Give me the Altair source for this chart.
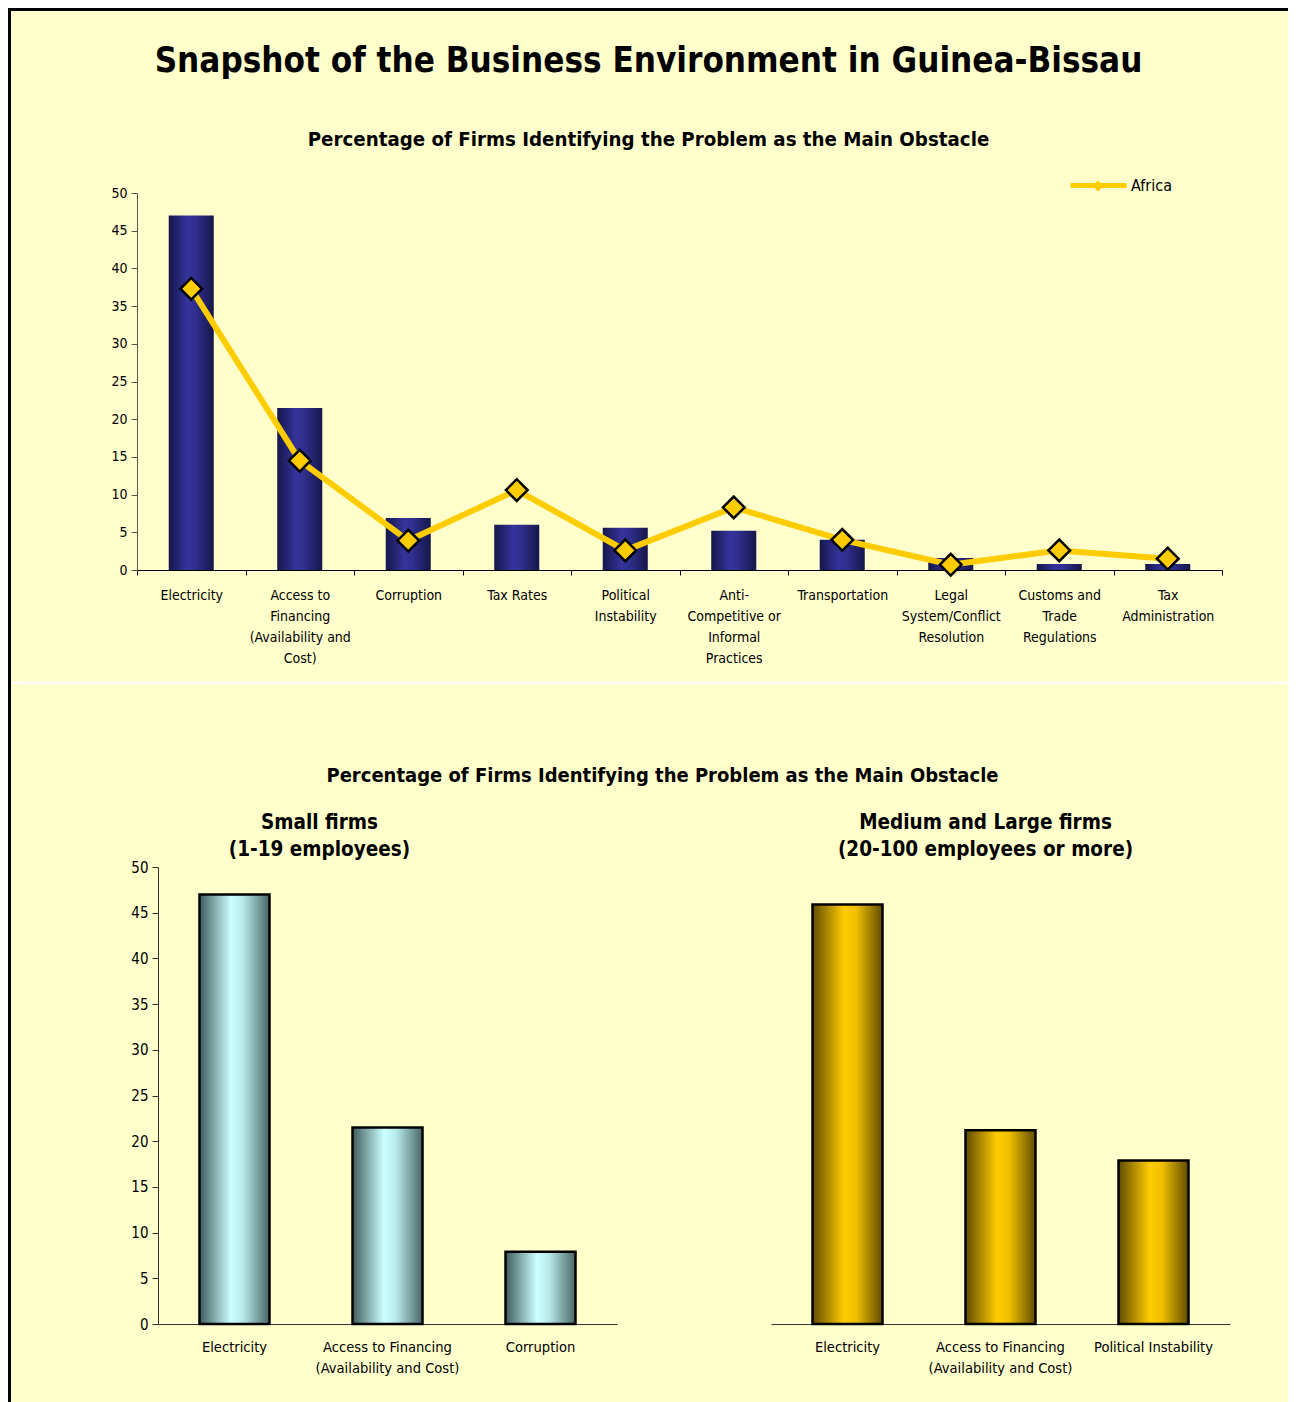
import altair as alt
import pandas as pd

BG = "#FFFFCC"
FONT = "'DejaVu Sans Condensed', 'DejaVu Sans', sans-serif"

# ---------------- data ----------------
top_categories = [
    "Electricity",
    "Access to\nFinancing\n(Availability and\nCost)",
    "Corruption",
    "Tax Rates",
    "Political\nInstability",
    "Anti-\nCompetitive or\nInformal\nPractices",
    "Transportation",
    "Legal\nSystem/Conflict\nResolution",
    "Customs and\nTrade\nRegulations",
    "Tax\nAdministration",
]
guinea_values = [47.0, 21.5, 6.9, 6.0, 5.6, 5.2, 4.0, 1.6, 0.8, 0.8]
africa_values = [37.3, 14.5, 3.9, 10.6, 2.6, 8.3, 4.0, 0.7, 2.6, 1.5]

small_categories = ["Electricity", "Access to Financing\n(Availability and Cost)", "Corruption"]
small_values = [47.0, 21.5, 7.9]
large_categories = ["Electricity", "Access to Financing\n(Availability and Cost)", "Political Instability"]
large_values = [45.9, 21.2, 17.9]

y_ticks = [0, 5, 10, 15, 20, 25, 30, 35, 40, 45, 50]

main_title = "Snapshot of the Business Environment in Guinea-Bissau"
panel_title = "Percentage of Firms Identifying the Problem as the Main Obstacle"
small_title = ["Small firms", "(1-19 employees)"]
large_title = ["Medium and Large firms", "(20-100 employees or more)"]
legend_label = "Africa"

# ---------------- styles ----------------
def hgrad(stops):
    return alt.Gradient(
        gradient="linear", x1=0, x2=1, y1=0, y2=0,
        stops=[alt.GradientStop(color=c, offset=o) for o, c in stops],
    )

navy = hgrad([(0, "#16164a"), (0.42, "#34349c"), (0.6, "#2f2f8e"), (1, "#16164a")])
cyan = hgrad([(0, "#3f5c5c"), (0.45, "#ccffff"), (0.62, "#b8eaea"), (1, "#4a6666")])
gold = hgrad([(0, "#604c00"), (0.45, "#ffcc00"), (0.62, "#f0c000"), (1, "#604c00")])


def blank(w, h, view=None):
    c = alt.Chart(alt.Data(values=[{"a": 0}])).mark_point(
        opacity=0, size=0, strokeWidth=0
    ).encode(x=alt.value(0), y=alt.value(0))
    if view is None:
        return c.properties(width=w, height=h)
    return c.properties(width=w, height=h, view=alt.ViewBackground(fill=view, stroke=None))


def ind(c):
    return c.resolve_scale(color="independent", shape="independent")


# ---------------- top chart ----------------
top_df = pd.DataFrame({
    "category": top_categories,
    "guinea": guinea_values,
    "africa": africa_values,
    "series": [legend_label] * len(top_categories),
    "marker": [legend_label] * len(top_categories),
})

x_top = alt.X(
    "category:N", sort=top_categories,
    scale=alt.Scale(paddingInner=0, paddingOuter=0),
    axis=alt.Axis(title=None, labelAngle=0, labelExpr="split(datum.label, '\\n')",
                  labelFontSize=14, labelLineHeight=21, labelPadding=13, labelLimit=300,
                  tickSize=5, tickBand="extent", domainColor="black", tickColor="black",
                  labelColor="black"),
)
y_axis_top = alt.Axis(title=None, values=y_ticks, tickSize=6, labelFontSize=14, labelPadding=4,
                      domainColor="#555", tickColor="#555", labelColor="black")
y_scale = alt.Scale(domain=[0, 50], nice=False)

bars = alt.Chart(top_df).mark_bar(color=navy, width=alt.RelativeBandSize(0.415)).encode(
    x=x_top, y=alt.Y("guinea:Q", scale=y_scale, axis=y_axis_top)
)
line = alt.Chart(top_df).mark_line(strokeWidth=6).encode(
    x=x_top,
    y=alt.Y("africa:Q", scale=y_scale, axis=y_axis_top),
    color=alt.Color("series:N", scale=alt.Scale(range=["#FFCC00"]),
                    legend=alt.Legend(title=None, orient="none", legendX=931, legendY=-38,
                                      symbolType="stroke", symbolSize=3136, symbolStrokeWidth=5,
                                      labelFontSize=16, labelColor="black", labelOffset=2,
                                      padding=0)),
)
points = alt.Chart(top_df).mark_point(filled=True, fill="#FFCC00", stroke="black",
                                      strokeWidth=2.5, strokeOpacity=1, opacity=1, size=470).encode(
    x=x_top,
    y=alt.Y("africa:Q", scale=y_scale, axis=y_axis_top),
    shape=alt.Shape("marker:N", scale=alt.Scale(range=["diamond"]),
                    legend=alt.Legend(title=None, orient="none", legendX=953, legendY=-15,
                                      symbolType="diamond", symbolSize=121,
                                      symbolFillColor="#FFCC00", symbolStrokeColor="black",
                                      symbolStrokeWidth=2, labelExpr="''", labelFontSize=16,
                                      padding=0)),
)

top_chart = alt.layer(bars, line, points).properties(
    width=1085, height=377,
    title=alt.TitleParams(main_title, subtitle=panel_title, fontSize=34.7, fontWeight="bold",
                          subtitleFontSize=20.3, subtitleFontWeight="bold", subtitleColor="black",
                          subtitleFont=FONT, subtitlePadding=50,
                          anchor="middle", frame="group", dx=-31, offset=4),
)

# ---------------- bottom charts ----------------
small_df = pd.DataFrame({"category": small_categories, "value": small_values})
large_df = pd.DataFrame({"category": large_categories, "value": large_values})


def bottom_x(cats):
    return alt.X(
        "category:N", sort=cats,
        scale=alt.Scale(paddingInner=0, paddingOuter=0),
        axis=alt.Axis(title=None, labelAngle=0, labelExpr="split(datum.label, '\\n')",
                      labelFontSize=14.6, labelLineHeight=21, labelPadding=15, labelLimit=300,
                      ticks=False, domainColor="#333", labelColor="black"),
    )


small_chart = alt.Chart(small_df).mark_bar(
    color=cyan, stroke="black", strokeWidth=2.5, width=alt.RelativeBandSize(70 / 153)
).encode(
    x=bottom_x(small_categories),
    y=alt.Y("value:Q", scale=y_scale,
            axis=alt.Axis(title=None, values=y_ticks, tickSize=6, labelFontSize=15,
                          labelPadding=4, domainColor="#333", tickColor="#333",
                          labelColor="black")),
).properties(
    width=459, height=457,
    title=alt.TitleParams(small_title, fontSize=20.5, fontWeight="bold", lineHeight=27,
                          anchor="middle", frame="group", dx=-68, offset=0),
)

large_chart = alt.Chart(large_df).mark_bar(
    color=gold, stroke="black", strokeWidth=2.5, width=alt.RelativeBandSize(70 / 153)
).encode(
    x=bottom_x(large_categories),
    y=alt.Y("value:Q", scale=y_scale, axis=None),
).properties(
    width=459, height=457,
    title=alt.TitleParams(large_title, fontSize=20.5, fontWeight="bold", lineHeight=27,
                          anchor="middle", frame="group", dx=-15, offset=7),
)

bottom_pair = ind(alt.hconcat(small_chart, large_chart, spacing=154))
bottom_row = ind(alt.hconcat(blank(119, 1), bottom_pair, spacing=0))

# ---------------- divider with the lower title ----------------
divider = blank(1277, 2, "white").properties(
    title=alt.TitleParams([panel_title, " "], orient="bottom", fontSize=20, fontWeight="bold",
                          lineHeight=9, anchor="middle", frame="group", dx=13, offset=82)
)

top_row = ind(alt.hconcat(blank(99, 1), top_chart, spacing=0))

inner = ind(alt.vconcat(blank(1, 16), top_row, divider, bottom_row, spacing=17))

chart = ind(alt.vconcat(
    blank(1280, 3, "black"),
    ind(alt.hconcat(blank(3, 1391, "black"), inner, spacing=0)),
    spacing=0,
)).properties(padding=0).configure(
    background=BG, font=FONT
).configure_view(stroke=None).configure_axis(
    grid=False, labelFont=FONT
).configure_title(font=FONT, color="black").configure_legend(labelFont=FONT)

chart.save("out.html", embed_options={"renderer": "svg", "actions": False})
